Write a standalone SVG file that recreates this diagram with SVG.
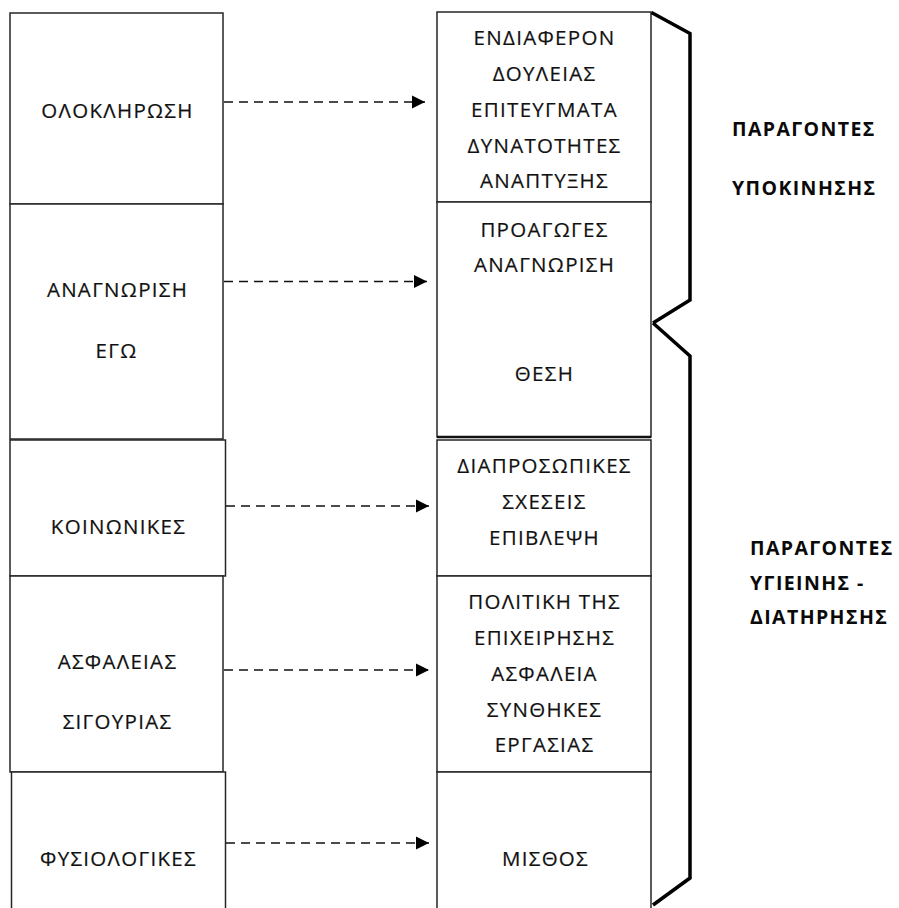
<svg xmlns="http://www.w3.org/2000/svg" width="899" height="908" viewBox="0 0 899 908">
<style>
.box{fill:#fff;stroke:#262626;stroke-width:1.5}
.t{font-family:"Open Sans","Noto Sans",sans-serif;font-size:20.5px;font-weight:500;fill:#111;stroke:#111;stroke-width:0.2;text-anchor:middle;letter-spacing:1.3px}
.b{font-family:"Open Sans","Noto Sans",sans-serif;font-size:19.5px;font-weight:bold;fill:#0a0a0a;letter-spacing:1.4px}
.dash{stroke:#111;stroke-width:1.5;stroke-dasharray:9 6;fill:none}
.brace{fill:none;stroke:#000;stroke-width:3.5;stroke-linejoin:miter}
</style>
<defs>
<marker id="ah" markerUnits="userSpaceOnUse" markerWidth="14" markerHeight="14" refX="13" refY="7" orient="auto">
<path d="M0,0.5 L13,7 L0,13.5 z" fill="#000"/>
</marker>
</defs>
<rect width="899" height="908" fill="#fff"/>
<g id="left-1"><rect class="box" x="10" y="13" width="213" height="191"/><text class="t" x="117.5" y="118">ΟΛΟΚΛΗΡΩΣΗ</text></g>
<g id="left-2"><rect class="box" x="10" y="204" width="213" height="235"/><text class="t" x="117.5" y="297">ΑΝΑΓΝΩΡΙΣΗ</text><text class="t" x="116.5" y="358">ΕΓΩ</text></g>
<g id="left-3"><rect class="box" x="10" y="440" width="215.5" height="136"/><text class="t" x="118.5" y="534">ΚΟΙΝΩΝΙΚΕΣ</text></g>
<g id="left-4"><rect class="box" x="10" y="576" width="213" height="196"/><text class="t" x="117.5" y="669">ΑΣΦΑΛΕΙΑΣ</text><text class="t" x="117.5" y="729">ΣΙΓΟΥΡΙΑΣ</text></g>
<g id="left-5"><rect class="box" x="11.5" y="772" width="214" height="140"/><text class="t" x="118.5" y="866">ΦΥΣΙΟΛΟΓΙΚΕΣ</text></g>
<g id="mid-1"><rect class="box" x="437" y="12" width="214" height="190"/>
<text class="t" x="544.5" y="45">ΕΝΔΙΑΦΕΡΟΝ</text><text class="t" x="544.5" y="81">ΔΟΥΛΕΙΑΣ</text><text class="t" x="544.5" y="117">ΕΠΙΤΕΥΓΜΑΤΑ</text><text class="t" x="544.5" y="153">ΔΥΝΑΤΟΤΗΤΕΣ</text><text class="t" x="544.5" y="188">ΑΝΑΠΤΥΞΗΣ</text></g>
<g id="mid-2"><rect class="box" x="437" y="202" width="214" height="235"/><line x1="437" y1="437" x2="651" y2="437" stroke="#111" stroke-width="2.5"/>
<text class="t" x="544.5" y="237">ΠΡΟΑΓΩΓΕΣ</text><text class="t" x="544.5" y="272">ΑΝΑΓΝΩΡΙΣΗ</text><text class="t" x="544.5" y="381">ΘΕΣΗ</text></g>
<g id="mid-3"><rect class="box" x="437" y="440" width="214" height="136"/>
<text class="t" x="544.5" y="473">ΔΙΑΠΡΟΣΩΠΙΚΕΣ</text><text class="t" x="544.5" y="509">ΣΧΕΣΕΙΣ</text><text class="t" x="544.5" y="545">ΕΠΙΒΛΕΨΗ</text></g>
<g id="mid-4"><rect class="box" x="437" y="576" width="214" height="196"/>
<text class="t" x="544.5" y="609">ΠΟΛΙΤΙΚΗ ΤΗΣ</text><text class="t" x="544.5" y="645">ΕΠΙΧΕΙΡΗΣΗΣ</text><text class="t" x="544.5" y="681">ΑΣΦΑΛΕΙΑ</text><text class="t" x="544.5" y="717">ΣΥΝΘΗΚΕΣ</text><text class="t" x="544.5" y="752">ΕΡΓΑΣΙΑΣ</text></g>
<g id="mid-5"><rect class="box" x="437" y="772" width="214" height="140"/><text class="t" x="545.5" y="866">ΜΙΣΘΟΣ</text></g>
<g id="brace-motivation"><path class="brace" d="M651.5,12.5 L690,33.5 L690,300 L653,323"/><text class="b" x="732" y="136">ΠΑΡΑΓΟΝΤΕΣ</text><text class="b" x="732" y="195">ΥΠΟΚΙΝΗΣΗΣ</text></g>
<g id="brace-hygiene"><path class="brace" d="M653,323 L690,356 L690,878 L653,905"/><text class="b" x="750" y="555">ΠΑΡΑΓΟΝΤΕΣ</text><text class="b" x="750" y="590">ΥΓΙΕΙΝΗΣ -</text><text class="b" x="750" y="624">ΔΙΑΤΗΡΗΣΗΣ</text></g>
<g id="connectors">
<line class="dash" x1="224" y1="102" x2="425" y2="102" marker-end="url(#ah)"/>
<line class="dash" x1="224" y1="281.5" x2="427" y2="281.5" marker-end="url(#ah)"/>
<line class="dash" x1="226" y1="506" x2="429" y2="506" marker-end="url(#ah)"/>
<line class="dash" x1="224" y1="670" x2="429" y2="670" marker-end="url(#ah)"/>
<line class="dash" x1="226" y1="843" x2="429" y2="843" marker-end="url(#ah)"/>
</g>
</svg>
